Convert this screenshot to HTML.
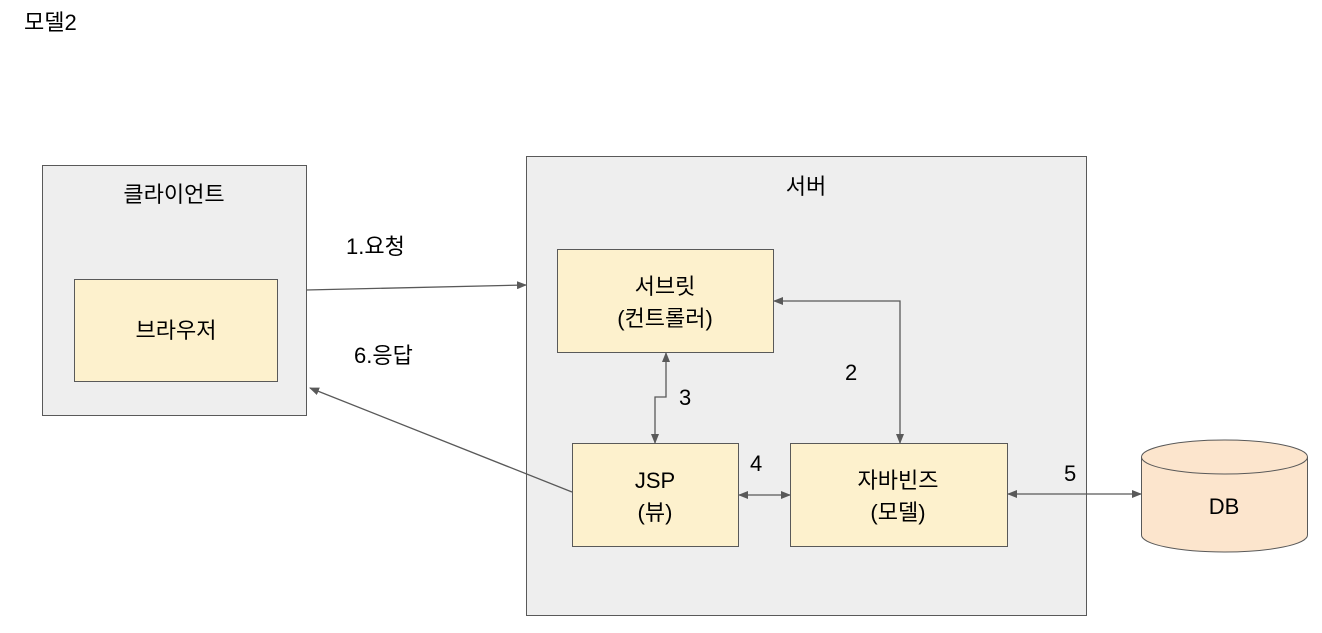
<!DOCTYPE html>
<html><head><meta charset="utf-8"><style>
body{margin:0;background:#fff}
text{font-family:"Liberation Sans","Noto Sans CJK KR",sans-serif;font-size:22px;fill:#000}
</style></head><body>
<svg width="1322" height="628" xmlns="http://www.w3.org/2000/svg">
<defs><marker id="a" markerWidth="10" markerHeight="8" refX="9" refY="4" orient="auto-start-reverse" markerUnits="userSpaceOnUse"><path d="M0,0 L10,4 L0,8 z" fill="#595959"/></marker></defs>
<text x="24" y="30">모델2</text>
<rect x="42.5" y="165.5" width="264" height="250" fill="#eeeeee" stroke="#595959"/>
<text x="174" y="202" text-anchor="middle">클라이언트</text>
<rect x="74.5" y="279.5" width="203" height="102" fill="#fdf1cd" stroke="#595959"/>
<text x="176" y="338" text-anchor="middle">브라우저</text>
<rect x="526.5" y="156.5" width="560" height="459" fill="#eeeeee" stroke="#595959"/>
<text x="806" y="194" text-anchor="middle">서버</text>
<rect x="557.5" y="249.5" width="216" height="103" fill="#fdf1cd" stroke="#595959"/>
<text x="665" y="294" text-anchor="middle">서브릿</text>
<text x="665" y="326" text-anchor="middle">(컨트롤러)</text>
<rect x="572.5" y="443.5" width="166" height="103" fill="#fdf1cd" stroke="#595959"/>
<text x="655" y="488" text-anchor="middle">JSP</text>
<text x="655" y="520" text-anchor="middle">(뷰)</text>
<rect x="790.5" y="443.5" width="217" height="103" fill="#fdf1cd" stroke="#595959"/>
<text x="898" y="488" text-anchor="middle">자바빈즈</text>
<text x="898" y="520" text-anchor="middle">(모델)</text>
<path d="M1141.5,457 L1141.5,535 A83,17 0 0 0 1307.5,535 L1307.5,457" fill="#fce5cd" stroke="#595959"/>
<ellipse cx="1224.5" cy="457" rx="83" ry="17" fill="#fce5cd" stroke="#595959"/>
<text x="1224" y="514" text-anchor="middle">DB</text>
<g stroke="#595959" stroke-width="1.3" fill="none">
<line x1="306" y1="290" x2="526" y2="285" marker-end="url(#a)"/>
<line x1="572" y1="492" x2="310" y2="388" marker-end="url(#a)"/>
<polyline points="666,353 666,397 655,397 655,443" marker-start="url(#a)" marker-end="url(#a)"/>
<polyline points="774,301 900,301 900,443" marker-start="url(#a)" marker-end="url(#a)"/>
<line x1="739" y1="495" x2="790" y2="495" marker-start="url(#a)" marker-end="url(#a)"/>
<line x1="1008" y1="494" x2="1141" y2="494" marker-start="url(#a)" marker-end="url(#a)"/>
</g>
<text x="346" y="254">1.요청</text>
<text x="354" y="363">6.응답</text>
<text x="679" y="405">3</text>
<text x="845" y="380">2</text>
<text x="750" y="471">4</text>
<text x="1064" y="481">5</text>
</svg>
</body></html>
